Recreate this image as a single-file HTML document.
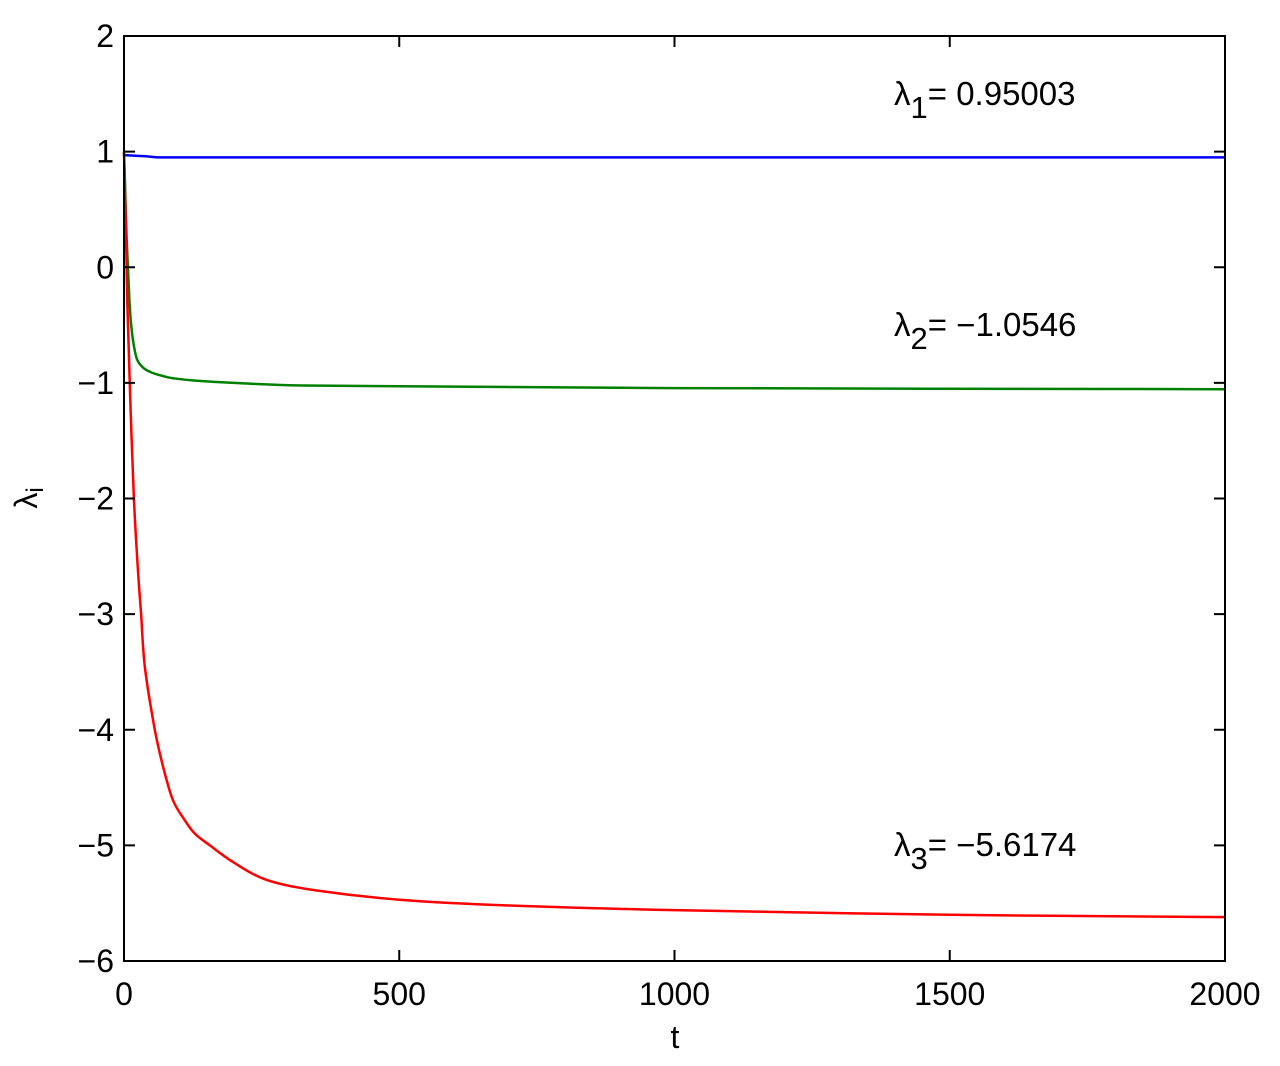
<!DOCTYPE html>
<html><head><meta charset="utf-8"><style>
body{margin:0;background:#fff;}
svg{display:block;font-family:"Liberation Sans",sans-serif;}
</style></head><body>
<svg id="chart" width="1280" height="1066" viewBox="0 0 1280 1066"></svg>
<script>
const xTicks=[0,500,1000,1500,2000];
const yTicks=[2,1,0,-1,-2,-3,-4,-5,-6];
const tBlue=[0,20,40,60,2000];
const vBlue=[0.97,0.965,0.96,0.95,0.95];
const tGreen=[0,2,4,7,10,13,18,24,35,50,70,90,130,200,300,500,1000,2000];
const vGreen=[1.0,0.7,0.35,0.0,-0.3,-0.5,-0.68,-0.8,-0.87,-0.91,-0.94,-0.96,-0.98,-1.0,-1.02,-1.03,-1.045,-1.055];
const tRed=[0,3,6,11,18,25,31,38,56,71,89,110,129,156,200,260,350,500,700,1000,1500,2000];
const vRed=[1.0,0.4,-0.3,-1.1,-2.0,-2.6,-3.0,-3.46,-4.0,-4.32,-4.61,-4.78,-4.9,-5.0,-5.15,-5.3,-5.39,-5.47,-5.52,-5.56,-5.6,-5.62];
const labels=[["1","= 0.95003",95],["2","= \u22121.0546",326],["3","= \u22125.6174",846]];
const X0=124,X1=1225,Y0=36,Y1=961;
const sx=t=>X0+(t-0)/(2000)*(X1-X0);
const sy=v=>Y0+(2-v)/8*(Y1-Y0);
const svg=document.getElementById('chart');
const NS='http://www.w3.org/2000/svg';
function mk(tag,attrs,parent){const e=document.createElementNS(NS,tag);for(const k in attrs)e.setAttribute(k,attrs[k]);(parent||svg).appendChild(e);return e;}
function smoothPath(ts,vs){
  const P=ts.map((t,i)=>[sx(t),sy(vs[i])]);
  let d='M'+P[0][0].toFixed(1)+' '+P[0][1].toFixed(1);
  for(let i=0;i<P.length-1;i++){
    const p0=P[Math.max(0,i-1)],p1=P[i],p2=P[i+1],p3=P[Math.min(P.length-1,i+2)];
    const c1=[p1[0]+(p2[0]-p0[0])/6,p1[1]+(p2[1]-p0[1])/6];
    const c2=[p2[0]-(p3[0]-p1[0])/6,p2[1]-(p3[1]-p1[1])/6];
    d+=' C'+c1.map(n=>n.toFixed(1)).join(' ')+' '+c2.map(n=>n.toFixed(1)).join(' ')+' '+p2[0].toFixed(1)+' '+p2[1].toFixed(1);
  }
  return d;
}
function linePath(ts,vs){return ts.map((t,i)=>(i?'L':'M')+sx(t).toFixed(1)+' '+sy(vs[i]).toFixed(1)).join(' ');}
function series(d,color,name){
  const p=mk('path',{d:d,fill:'none',stroke:color,'stroke-width':2.5});
  
  
}
series(linePath(tBlue,vBlue),'#0000ff','lambda1-line');
series(smoothPath(tGreen,vGreen),'#008000','lambda2-line');
series(smoothPath(tRed,vRed),'#ff0000','lambda3-line');
const box=mk('rect',{x:X0,y:Y0,width:X1-X0,height:Y1-Y0,fill:'none',stroke:'#000','stroke-width':2});


xTicks.forEach(t=>{
  const x=sx(t);
  mk('line',{x1:x,y1:Y1,x2:x,y2:Y1-11,stroke:'#000','stroke-width':2});
  mk('line',{x1:x,y1:Y0,x2:x,y2:Y0+11,stroke:'#000','stroke-width':2});
  const tx=mk('text',{x:x,y:1005,'text-anchor':'middle','font-size':32});
  tx.textContent=t;
  
  
});
yTicks.forEach(v=>{
  const y=sy(v);
  mk('line',{x1:X0,y1:y,x2:X0+11,y2:y,stroke:'#000','stroke-width':2});
  mk('line',{x1:X1,y1:y,x2:X1-11,y2:y,stroke:'#000','stroke-width':2});
  const tx=mk('text',{x:114,y:y+11,'text-anchor':'end','font-size':32});
  tx.textContent=v<0?'\u2212'+(-v):v;
  
  
});
const xt=mk('text',{x:675,y:1048,'text-anchor':'middle','font-size':32});
xt.textContent='t';


const yt=mk('text',{x:0,y:0,'font-size':32,'text-anchor':'middle',transform:'translate(37,498) rotate(-90)'});
yt.innerHTML='\u03bb<tspan font-size="24" dy="6">i</tspan>';


labels.forEach((l,i)=>{
  const tx=mk('text',{x:894,y:l[2]+10,'font-size':33});
  tx.innerHTML='\u03bb<tspan font-size="31" dy="13">'+l[0]+'</tspan><tspan dy="-13">'+l[1]+'</tspan>';
  
  
});
</script>
</body></html>
